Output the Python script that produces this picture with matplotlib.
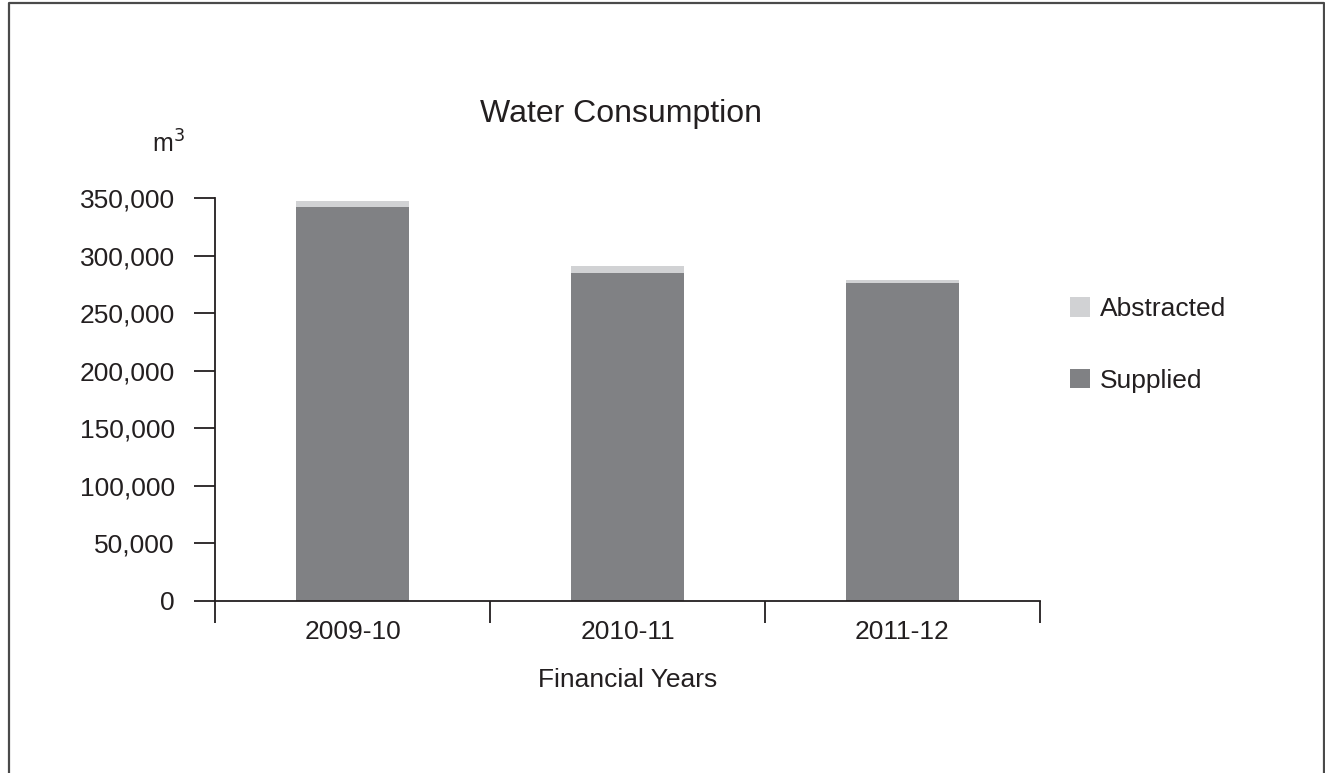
import numpy as np
import matplotlib

matplotlib.use("Agg")
import matplotlib.pyplot as plt
from matplotlib.lines import Line2D

plt.rcParams["font.family"] = ["Liberation Sans", "DejaVu Sans"]

years = ["2009-10", "2010-11", "2011-12"]
supplied = [342000, 285000, 276000]
abstracted = [5000, 6000, 3000]
y_ticks = [0, 50000, 100000, 150000, 200000, 250000, 300000, 350000]

col_supplied = "#808184"
col_abstracted = "#d1d2d4"
text_col = "#231f20"


def main():
    w, h = 1325, 773
    fig = plt.figure(figsize=(w / 100, h / 100), dpi=100)
    ax = fig.add_axes([215 / w, 1 - 601 / h, 825 / w, 403 / h])

    x = np.arange(len(years))
    ax.bar(x, supplied, width=0.41, color=col_supplied, label="Supplied")
    ax.bar(x, abstracted, width=0.41, bottom=supplied,
           color=col_abstracted, label="Abstracted")

    ax.set_xlim(-0.5, len(years) - 0.5)
    ax.set_ylim(0, 350000)

    # ticks on category boundaries, labels in the middle
    ax.set_xticks(np.arange(len(years) + 1) - 0.5)
    ax.set_xticklabels([])
    ax.set_xticks(x, minor=True)
    ax.set_xticklabels(years, minor=True, fontsize=19, color=text_col)
    ax.tick_params(axis="x", which="major", direction="out", length=16,
                   width=1.3, color=text_col)
    ax.tick_params(axis="x", which="minor", length=0, pad=14)

    ax.set_yticks(y_ticks)
    ax.set_yticklabels([f"{v:,}" for v in y_ticks], fontsize=19, color=text_col)
    ax.tick_params(axis="y", direction="out", length=15, width=1.3,
                   color=text_col, pad=14)

    for side in ["top", "right"]:
        ax.spines[side].set_visible(False)
    for side in ["left", "bottom"]:
        ax.spines[side].set_linewidth(1.3)
        ax.spines[side].set_color(text_col)

    ax.set_xlabel("Financial Years", fontsize=19, color=text_col, labelpad=17)
    fig.text(621 / w, 1 - 122 / h, "Water Consumption", fontsize=23,
             color=text_col, ha="center", va="baseline")
    fig.text(185 / w, 1 - 153 / h, "m$^3$", fontsize=18,
             color=text_col, ha="right", va="baseline")

    handles, labels = ax.get_legend_handles_labels()
    leg = fig.legend(handles[::-1], labels[::-1], loc="center left",
                     bbox_to_anchor=(1046 / w, 1 - 345 / h),
                     frameon=False, fontsize=19, handlelength=0.75,
                     handleheight=0.75, handletextpad=0.4, labelspacing=1.8)
    for t in leg.get_texts():
        t.set_color(text_col)

    # outer frame (left, top, right)
    frame_x = [8.5 / w, 8.5 / w, 1323.5 / w, 1323.5 / w]
    frame_y = [0, 1 - 2.5 / h, 1 - 2.5 / h, 0]
    fig.add_artist(Line2D(frame_x, frame_y, color="#4a4a4a", linewidth=1.6,
                          transform=fig.transFigure))

    fig.savefig("out.png", dpi=100)


if __name__ == "__main__":
    main()
